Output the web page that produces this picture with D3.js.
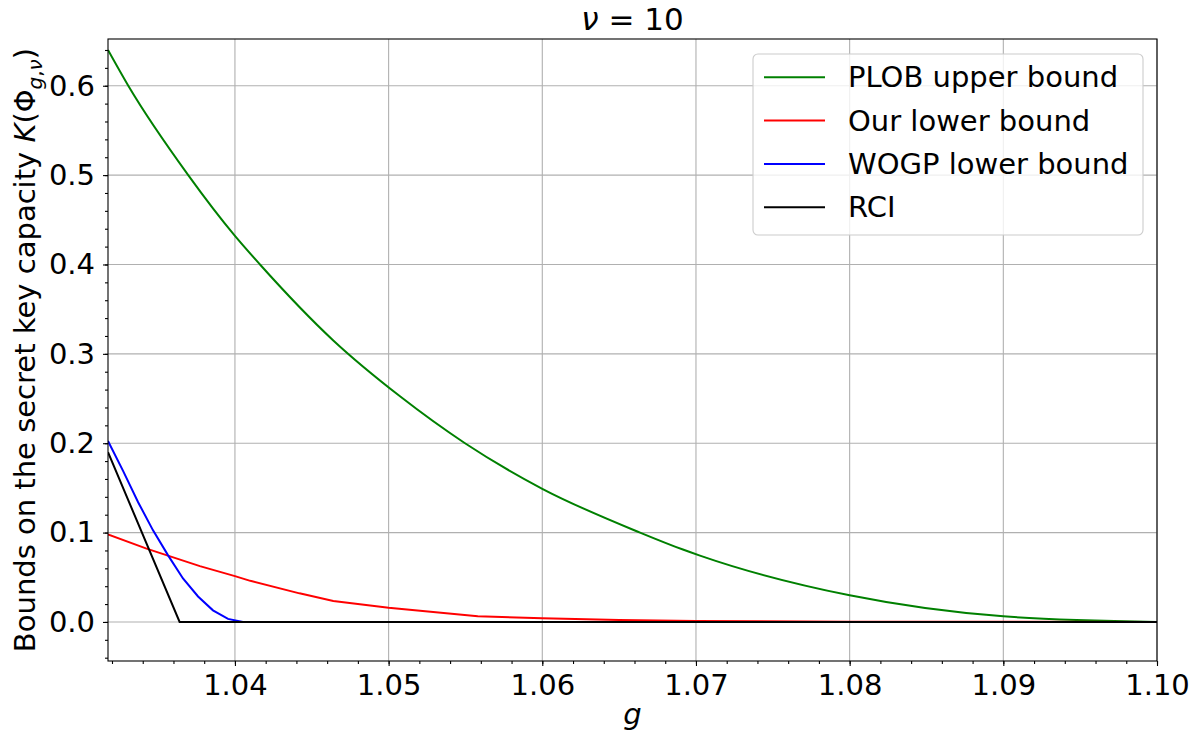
<!DOCTYPE html>
<html><head><meta charset="utf-8">
<script src="https://cdn.jsdelivr.net/npm/d3@7"></script>
<style>
body{margin:0;background:#fff;}
text{font-family:"DejaVu Sans",sans-serif;fill:#000;}
</style></head>
<body><svg id="c" width="1201" height="738"></svg>
<script>
// ---- data ----
const gPLOB = [1.03174,1.03306,1.03696,1.04,1.04163,1.0464,1.05074,1.05497,1.06,1.06636,1.06915,1.07026,1.08,1.09,1.10];
const kPLOB = [0.640,0.600,0.500,0.432,0.400,0.315,0.2525,0.200,0.149,0.100,0.081,0.0742,0.0298,0.0063,0];
const gOur = [1.03174,1.03425,1.03772,1.04,1.041,1.0442,1.0464,1.05,1.0558,1.06,1.065,1.07,1.08,1.09,1.10];
const kOur = [0.098,0.082,0.0625,0.0513,0.046,0.032,0.0235,0.016,0.0065,0.004,0.0022,0.001,0.0003,0.0001,0];
const gWOGP = [1.03174,1.03272,1.0337,1.03467,1.03565,1.03662,1.0376,1.03857,1.03955,1.04052,1.10];
const kWOGP = [0.2025,0.169,0.134,0.1025,0.0745,0.0487,0.0285,0.013,0.0034,0,0];
const gRCI = [1.03174,1.0364,1.10];
const kRCI = [0.19,0,0];
const seriesNames = ["PLOB upper bound","Our lower bound","WOGP lower bound","RCI"];
const seriesColors = ["#008000","#ff0000","#0000ff","#000000"];
const xTicks = [1.04,1.05,1.06,1.07,1.08,1.09,1.10];
const yTicks = [0.0,0.1,0.2,0.3,0.4,0.5,0.6];
const xDomain = [1.03174,1.10];
const yDomain = [-0.0437,0.6523];

// ---- layout ----
const L=108,T=39,R=1157,B=661;
const FS=29;
const svg=d3.select("#c");
const x=d3.scaleLinear().domain(xDomain).range([L,R]);
const y=d3.scaleLinear().domain(yDomain).range([B,T]);

// grid
const grid=svg.append("g").attr("stroke","#b0b0b0").attr("stroke-width",1.1);
xTicks.forEach(t=>grid.append("line").attr("x1",x(t)).attr("x2",x(t)).attr("y1",T).attr("y2",B));
yTicks.forEach(t=>grid.append("line").attr("x1",L).attr("x2",R).attr("y1",y(t)).attr("y2",y(t)));

// lines
const series=[[gPLOB,kPLOB],[gOur,kOur],[gWOGP,kWOGP],[gRCI,kRCI]];
svg.append("clipPath").attr("id","clp").append("rect").attr("x",L).attr("y",T).attr("width",R-L).attr("height",B-T);
series.forEach((s,i)=>{
  const pts=s[0].map((g,j)=>[g,s[1][j]]);
  const line=d3.line().x(d=>x(d[0])).y(d=>y(d[1])).curve(i===0?d3.curveMonotoneX:d3.curveLinear);
  svg.append("path").datum(pts).attr("d",line).attr("fill","none")
    .attr("stroke",seriesColors[i]).attr("stroke-width",2).attr("clip-path","url(#clp)");
});

// axes
const xMinor=d3.range(1.032,1.1001,0.002);
const yMinor=d3.range(-0.04,0.651,0.02);
const xa=svg.append("g").attr("transform",`translate(0,${B})`)
  .call(d3.axisBottom(x).tickValues(xTicks).tickFormat(d3.format(".2f")).tickSize(5).tickPadding(8));
const xm=svg.append("g").attr("transform",`translate(0,${B})`)
  .call(d3.axisBottom(x).tickValues(xMinor).tickFormat("").tickSize(3));
const ya=svg.append("g").attr("transform",`translate(${L},0)`)
  .call(d3.axisLeft(y).tickValues(yTicks).tickFormat(d3.format(".1f")).tickSize(5).tickPadding(8));
const ym=svg.append("g").attr("transform",`translate(${L},0)`)
  .call(d3.axisLeft(y).tickValues(yMinor).tickFormat("").tickSize(3));
[xa,xm,ya,ym].forEach(a=>{a.select(".domain").remove();a.selectAll("line").attr("stroke","#000").attr("stroke-width",1.1);});
[xa,ya].forEach(a=>a.selectAll("text").style("font-size",FS+"px").style("font-family","DejaVu Sans"));
xa.selectAll("text").attr("dy","0.71em");
// frame
svg.append("rect").attr("x",L).attr("y",T).attr("width",R-L).attr("height",B-T)
  .attr("fill","none").attr("stroke","#000").attr("stroke-width",1.1);

// title
const title=svg.append("text").attr("x",(L+R)/2).attr("y",30).attr("text-anchor","middle").style("font-size","31px");
title.append("tspan").style("font-style","italic").text("ν");
title.append("tspan").text(" = 10");

// x label
svg.append("text").attr("x",(L+R)/2).attr("y",724).attr("text-anchor","middle")
  .style("font-size",FS+"px").style("font-style","italic").text("g");

// y label
const yl=svg.append("text").attr("transform",`translate(35,${(T+B)/2}) rotate(-90)`).attr("text-anchor","middle").style("font-size",FS+"px");
yl.append("tspan").text("Bounds on the secret key capacity ");
yl.append("tspan").style("font-style","italic").text("K");
yl.append("tspan").text("(Φ");
yl.append("tspan").attr("dy",7).style("font-size","20px").style("font-style","italic").text("g");
yl.append("tspan").style("font-size","20px").text(",");
yl.append("tspan").style("font-size","20px").style("font-style","italic").text("ν");
yl.append("tspan").attr("dy",-7).text(")");

// legend
const lg=svg.append("g");
lg.append("rect").attr("x",753).attr("y",54).attr("width",390).attr("height",181).attr("rx",5)
  .attr("fill","#fff").attr("fill-opacity",0.8).attr("stroke","#cccccc").attr("stroke-width",1.1);
seriesNames.forEach((n,i)=>{
  const yy=77.3+i*43.3;
  lg.append("line").attr("x1",764).attr("x2",825).attr("y1",yy).attr("y2",yy).attr("stroke",seriesColors[i]).attr("stroke-width",2);
  lg.append("text").attr("x",848).attr("y",yy).attr("dy","0.35em").style("font-size",FS+"px").text(n);
});
</script></body></html>
